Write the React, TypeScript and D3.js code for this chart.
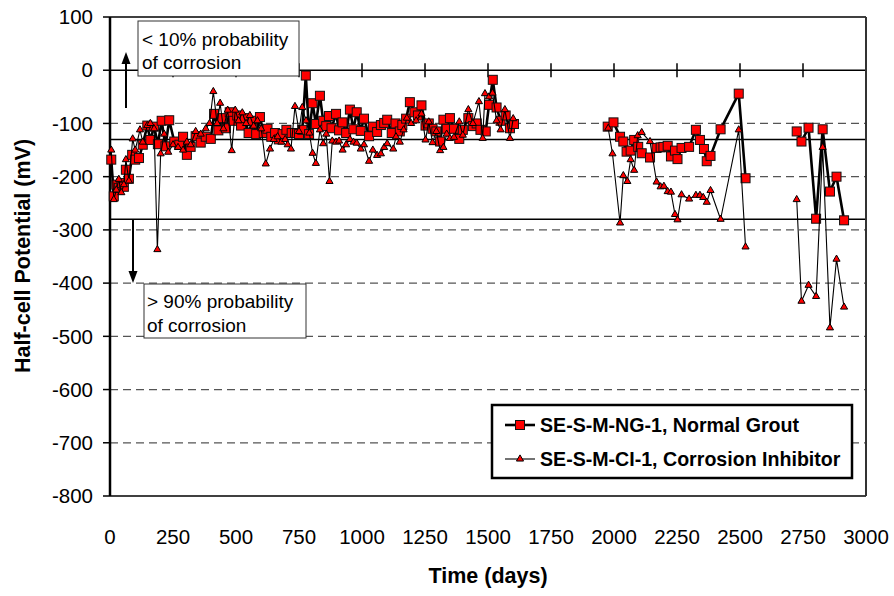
import React from "react";
import * as d3 from "d3";

// Half-cell potential readings, SE-S-M-NG-1 (normal grout). null marks a break in monitoring.
const ngDays = [5, 15, 25, 35, 45, 55, 63, 75, 88, 100, 115, 130, 148, 160, 175, 190, 205, 220, 235, 255, 275, 290, 305, 320, 340, 360, 380, 400, 413, 430, 445, 460, 475, 490, 505, 520, 535, 550, 565, 580, 595, 610, 625, 640, 655, 670, 685, 700, 721, 734, 750, 763, 777, 790, 804, 817, 833, 846, 858, 869, 879, 897, 909, 923, 937, 952, 966, 979, 995, 1008, 1028, 1043, 1060, 1075, 1088, 1100, 1118, 1133, 1150, 1160, 1175, 1190, 1208, 1222, 1236, 1252, 1265, 1280, 1295, 1310, 1323, 1336, 1349, 1365, 1386, 1400, 1422, 1440, 1455, 1470, 1491, 1504, 1519, 1534, 1550, 1570, 1587, 1603,
  1800,
  1975, 1998, 2024, 2037, 2050, 2066, 2080, 2096, 2110, 2143, 2169, 2185, 2196, 2213, 2226, 2242, 2252, 2268, 2298, 2325, 2341, 2357, 2368, 2383, 2423, 2495, 2522,
  2620,
  2725, 2744, 2772, 2802, 2828, 2857, 2883, 2913];
const ngMv = [-168, -237, -215, -221, -212, -219, -187, -204, -159, -168, -165, -140, -104, -131, -106, -139, -95, -143, -94, -134, -140, -125, -159, -144, -124, -136, -125, -129, -82, -113, -90, -109, -79, -95, -85, -104, -90, -118, -95, -120, -88, -118, -110, -125, -118, -130, -120, -112, -118, -118, -120, -112, -10, -120, -62, -101, -48, -95, -105, -86, -109, -82, -113, -98, -118, -74, -111, -79, -114, -91, -124, -106, -116, -103, -99, -93, -118, -100, -115, -103, -91, -60, -79, -85, -66, -104, -100, -110, -115, -134, -93, -110, -90, -110, -129, -112, -90, -105, -100, -112, -115, -65, -18, -70, -95, -85, -109, -101,
  null,
  -106, -98, -125, -134, -153, -151, -131, -144, -156, -164, -146, -145, -144, -142, -162, -151, -167, -146, -144, -112, -131, -148, -171, -161, -111, -44, -203,
  null,
  -115, -134, -108, -279, -111, -228, -200, -282];

// Half-cell potential readings, SE-S-M-CI-1 (corrosion inhibitor).
const ciDays = [5, 15, 25, 35, 45, 55, 63, 75, 90, 100, 119, 130, 148, 160, 175, 188, 201, 215, 231, 250, 270, 290, 305, 320, 340, 360, 380, 395, 410, 425, 437, 450, 467, 483, 497, 510, 525, 540, 555, 570, 585, 600, 618, 635, 650, 665, 680, 695, 705, 718, 734, 750, 763, 778, 791, 804, 817, 833, 846, 858, 871, 882, 897, 909, 923, 937, 952, 966, 979, 995, 1008, 1028, 1043, 1060, 1075, 1088, 1100, 1124, 1135, 1150, 1165, 1178, 1195, 1215, 1236, 1252, 1265, 1280, 1295, 1310, 1323, 1336, 1349, 1365, 1386, 1400, 1422, 1440, 1464, 1479, 1488, 1504, 1518, 1534, 1550, 1567, 1587, 1600,
  1800,
  1977, 1994, 2024, 2037, 2053, 2066, 2080, 2094, 2110, 2143, 2169, 2185, 2198, 2213, 2226, 2242, 2252, 2268, 2298, 2325, 2341, 2354, 2368, 2383, 2423, 2495, 2522,
  2620,
  2725, 2744, 2772, 2802, 2828, 2857, 2883, 2913];
const ciMv = [-150, -243, -225, -205, -230, -215, -168, -208, -129, -150, -112, -135, -104, -100, -110, -337, -157, -120, -154, -140, -145, -150, -135, -140, -115, -120, -110, -100, -40, -100, -62, -110, -75, -151, -75, -95, -80, -100, -85, -105, -95, -110, -176, -148, -130, -125, -135, -130, -140, -148, -68, -115, -70, -95, -118, -156, -175, -112, -138, -120, -209, -133, -135, -133, -150, -140, -130, -135, -137, -148, -140, -171, -150, -160, -157, -145, -138, -148, -125, -135, -112, -90, -100, -95, -82, -131, -97, -136, -115, -151, -145, -120, -128, -126, -97, -122, -74, -100, -59, -128, -44, -50, -43, -95, -112, -74, -128, -91,
  null,
  -109, -157, -287, -198, -209, -168, -188, -123, -117, -134, -210, -219, -218, -228, -229, -271, -281, -234, -242, -235, -235, -239, -248, -226, -280, -112, -332,
  null,
  -243, -434, -404, -425, -145, -484, -355, -445];

const xTicks = [0, 250, 500, 750, 1000, 1250, 1500, 1750, 2000, 2250, 2500, 2750, 3000];
const yTicks = [100, 0, -100, -200, -300, -400, -500, -600, -700, -800];
const dashedLevels = [-100, -200, -300, -400, -500, -600, -700];
const thresholdLevels = [-130, -280];
const seriesNames = ["SE-S-M-NG-1, Normal Grout", "SE-S-M-CI-1, Corrosion Inhibitor"];

const W = 894;
const H = 596;
const left = 110;
const right = 866;
const top = 17;
const bottom = 496;
const FONT = "'Liberation Sans', Arial, sans-serif";

type Pt = { d: number; v: number | null };

export default function App() {
  const x = d3.scaleLinear().domain([0, 3000]).range([left, right]);
  const y = d3.scaleLinear().domain([-800, 100]).range([bottom, top]);

  const ng: Pt[] = ngDays.map((d, i) => ({ d, v: ngMv[i] }));
  const ci: Pt[] = ciDays.map((d, i) => ({ d, v: ciMv[i] }));

  const line = d3
    .line<Pt>()
    .defined((p) => p.v !== null)
    .x((p) => x(p.d))
    .y((p) => y(p.v as number));

  const tri = d3.symbol().type(d3.symbolTriangle).size(22)() as string;
  const triLegend = tri;
  const sq = 9;

  const arrowHead = (cx: number, tipY: number, dir: number) =>
    `M${cx},${tipY} L${cx - 4.5},${tipY - dir * 12} L${cx + 4.5},${tipY - dir * 12} Z`;

  return (
    <svg
      width={W}
      height={H}
      style={{ position: "absolute", left: 0, top: 0, background: "#fff" }}
      fontFamily={FONT}
    >
      <rect x={0} y={0} width={W} height={H} fill="#fff" />

      {/* grid lines */}
      {dashedLevels.map((v) => (
        <line key={v} x1={left} x2={right} y1={y(v)} y2={y(v)} stroke="#555" strokeWidth={1.3} strokeDasharray="8,5" />
      ))}
      {thresholdLevels.map((v) => (
        <line key={v} x1={left} x2={right} y1={y(v)} y2={y(v)} stroke="#000" strokeWidth={1.5} />
      ))}

      {/* x axis through zero */}
      <line x1={left} x2={right} y1={y(0)} y2={y(0)} stroke="#000" strokeWidth={1.5} />
      {xTicks.slice(1).map((t) => (
        <line key={t} x1={x(t)} x2={x(t)} y1={y(0) - 7} y2={y(0) + 7} stroke="#000" strokeWidth={1.5} />
      ))}

      {/* plot frame */}
      <line x1={left} x2={right} y1={top} y2={top} stroke="#000" strokeWidth={1.5} />
      <line x1={left} x2={right} y1={bottom} y2={bottom} stroke="#000" strokeWidth={1.5} />
      <line x1={right} x2={right} y1={top} y2={bottom} stroke="#333" strokeWidth={2} />
      <line x1={left} x2={left} y1={top} y2={bottom} stroke="#000" strokeWidth={2.5} />
      {yTicks.map((t) => (
        <line key={t} x1={left - 7} x2={left} y1={y(t)} y2={y(t)} stroke="#000" strokeWidth={1.5} />
      ))}

      {/* tick labels */}
      {yTicks.map((t) => (
        <text key={t} x={93} y={y(t)} dy="0.35em" textAnchor="end" fontSize={20.5} fill="#000">
          {t}
        </text>
      ))}
      {xTicks.map((t) => (
        <text key={t} x={x(t)} y={544} textAnchor="middle" fontSize={20.5} fill="#000">
          {t}
        </text>
      ))}

      {/* axis titles */}
      <text x={488} y={583} textAnchor="middle" fontSize={21.5} fontWeight="bold">
        Time (days)
      </text>
      <text
        transform={`translate(30,256) rotate(-90)`}
        textAnchor="middle"
        fontSize={21.5}
        fontWeight="bold"
      >
        Half-cell Potential (mV)
      </text>

      {/* annotations */}
      <rect x={138} y={21} width={161} height={55} fill="#fff" stroke="#333" strokeWidth={1} />
      <text x={142} y={46} fontSize={19}>&lt; 10% probability</text>
      <text x={142} y={69} fontSize={19}>of corrosion</text>
      <line x1={126} x2={126} y1={108} y2={62} stroke="#000" strokeWidth={2} />
      <path d={arrowHead(126, 52, -1)} fill="#000" />

      <line x1={133} x2={133} y1={y(-280)} y2={273} stroke="#000" strokeWidth={2} />
      <path d={arrowHead(133, 283, 1)} fill="#000" />
      <rect x={144} y={284} width={162} height={54} fill="#fff" stroke="#333" strokeWidth={1} />
      <text x={147} y={308} fontSize={19}>&gt; 90% probability</text>
      <text x={147} y={332} fontSize={19}>of corrosion</text>

      {/* normal grout series */}
      <path d={line(ng) || ""} fill="none" stroke="#000" strokeWidth={2.6} strokeLinejoin="round" />
      {ng
        .filter((p) => p.v !== null)
        .map((p, i) => (
          <rect
            key={i}
            x={x(p.d) - sq / 2}
            y={y(p.v as number) - sq / 2}
            width={sq}
            height={sq}
            fill="#ff0000"
            stroke="#111"
            strokeWidth={1}
          />
        ))}

      {/* corrosion inhibitor series */}
      <path d={line(ci) || ""} fill="none" stroke="#000" strokeWidth={1.1} strokeLinejoin="round" />
      {ci
        .filter((p) => p.v !== null)
        .map((p, i) => (
          <path
            key={i}
            d={tri}
            transform={`translate(${x(p.d)},${y(p.v as number)})`}
            fill="#ff0000"
            stroke="#000"
            strokeWidth={1}
          />
        ))}

      {/* legend */}
      <rect x={492} y={405} width={360} height={73} fill="#fff" stroke="#000" strokeWidth={2.5} />
      <line x1={505} x2={535} y1={425} y2={425} stroke="#000" strokeWidth={2.6} />
      <rect x={520 - sq / 2} y={425 - sq / 2} width={sq} height={sq} fill="#ff0000" stroke="#111" strokeWidth={1} />
      <text x={540} y={432} fontSize={19.6} fontWeight="bold">
        {seriesNames[0]}
      </text>
      <line x1={505} x2={535} y1={459} y2={459} stroke="#000" strokeWidth={1.1} />
      <path d={triLegend} transform="translate(520,459)" fill="#ff0000" stroke="#000" strokeWidth={1} />
      <text x={540} y={466} fontSize={19.6} fontWeight="bold">
        {seriesNames[1]}
      </text>
    </svg>
  );
}
